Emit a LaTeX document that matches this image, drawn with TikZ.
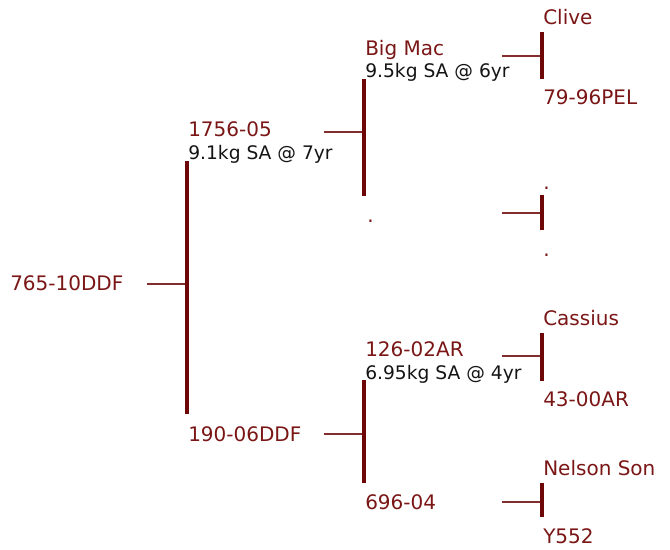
\documentclass[tikz,border=0pt]{standalone}
\usepackage{fontspec}
\setmainfont{DejaVu Sans}
\definecolor{maroon}{RGB}{110,8,8}
\definecolor{nametext}{RGB}{122,22,22}
\definecolor{infotext}{RGB}{20,20,20}
\begin{document}
\begin{tikzpicture}[x=0.75pt,y=-0.75pt,
  lbl/.style={inner sep=0pt,anchor=base west,text=nametext,font=\fontsize{15}{18}\selectfont},
  info/.style={inner sep=0pt,anchor=base west,text=infotext,font=\fontsize{14}{17}\selectfont},
  bar/.style={draw=maroon,line width=2.3pt},
  tick/.style={draw=maroon!85,line width=1.4pt}]
\useasboundingbox (0,0) rectangle (670,549);
% generation 0
\node[lbl] (g0) at (10,290) {765-10DDF};
% generation 1
\node[lbl] (s) at (188,137) {1756-05};
\node[info] (si) at (188,160) {9.1kg SA @ 7yr};
\node[lbl] (d) at (188,441) {190-06DDF};
% generation 2
\node[lbl] (ss) at (365,56) {Big Mac};
\node[info] (ssi) at (365,78) {9.5kg SA @ 6yr};
\node[lbl] (sd) at (367,222) {.};
\node[lbl] (ds) at (365,356) {126-02AR};
\node[info] (dsi) at (365,379) {6.95kg SA @ 4yr};
\node[lbl] (dd) at (365,509) {696-04};
% generation 3
\node[lbl] (sss) at (543,25) {Clive};
\node[lbl] (ssd) at (543,105) {79-96PEL};
\node[lbl] (sds) at (543,189) {.};
\node[lbl] (sdd) at (543,256) {.};
\node[lbl] (dss) at (543,325) {Cassius};
\node[lbl] (dsd) at (543,406) {43-00AR};
\node[lbl] (dds) at (543,475) {Nelson Son};
\node[lbl] (ddd) at (543,543) {Y552};
% bar coordinates
\coordinate (h0) at (147,284); \coordinate (b0t) at (187,161); \coordinate (b0b) at (187,414);
\coordinate (h1) at (324,132); \coordinate (b1t) at (364,79); \coordinate (b1b) at (364,196);
\coordinate (h2) at (324,434); \coordinate (b2t) at (364,380); \coordinate (b2b) at (364,483);
\coordinate (h3) at (502,56); \coordinate (b3t) at (542,32); \coordinate (b3b) at (542,79);
\coordinate (h4) at (502,213); \coordinate (b4t) at (542,195); \coordinate (b4b) at (542,230);
\coordinate (h5) at (502,356); \coordinate (b5t) at (542,333); \coordinate (b5b) at (542,381);
\coordinate (h6) at (502,502); \coordinate (b6t) at (542,483); \coordinate (b6b) at (542,517);
% connectors
\draw[tick] (h0) -- (h0 -| b0t);
\draw[bar] (b0t) -- (b0b);
\draw[tick] (h1) -- (h1 -| b1t);
\draw[bar] (b1t) -- (b1b);
\draw[tick] (h2) -- (h2 -| b2t);
\draw[bar] (b2t) -- (b2b);
\draw[tick] (h3) -- (h3 -| b3t);
\draw[bar] (b3t) -- (b3b);
\draw[tick] (h4) -- (h4 -| b4t);
\draw[bar] (b4t) -- (b4b);
\draw[tick] (h5) -- (h5 -| b5t);
\draw[bar] (b5t) -- (b5b);
\draw[tick] (h6) -- (h6 -| b6t);
\draw[bar] (b6t) -- (b6b);
\end{tikzpicture}
\end{document}
